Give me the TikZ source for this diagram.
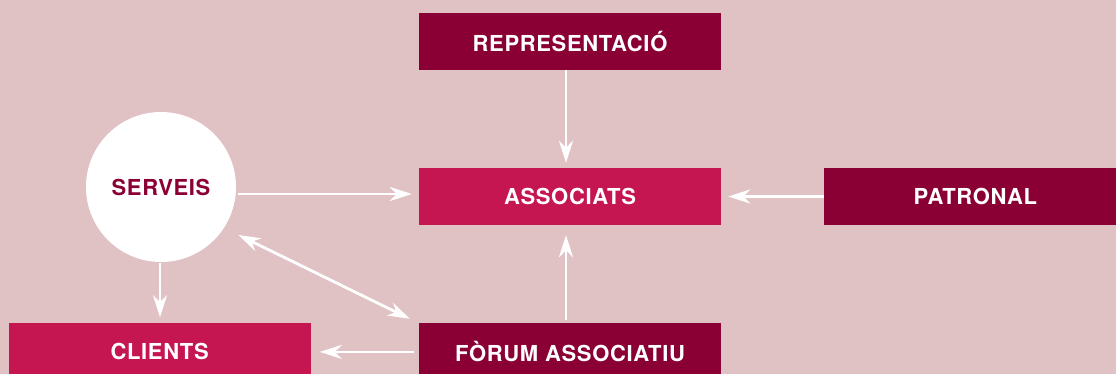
\documentclass[tikz,border=0pt]{standalone}
\usepackage{fontspec}
\setmainfont{TeX Gyre Heros}[LetterSpace=3]
\usepackage{tikz}
\usetikzlibrary{positioning, arrows.meta}

\definecolor{bgpink}{RGB}{225,194,196}
\definecolor{darkwine}{RGB}{138,0,52}
\definecolor{brightwine}{RGB}{197,22,82}

\tikzset{
  darkbox/.style={rectangle, fill=darkwine, text=white, minimum width=302pt, minimum height=57pt, inner sep=0pt, font=\fontsize{22}{24}\selectfont\bfseries},
  brightbox/.style={darkbox, fill=brightwine},
  circbox/.style={circle, fill=white, text=darkwine, minimum size=150pt, inner sep=0pt, font=\fontsize{22}{24}\selectfont\bfseries},
  arr/.style={->, draw=white, line width=2.8pt},
}

\begin{document}
\begin{tikzpicture}[x=1pt, y=-1pt, >={Stealth[length=22pt, width=14pt, inset=7pt]}]

\useasboundingbox (0,0) rectangle (1116,374);
\clip (0,0) rectangle (1116,374);
\fill[bgpink] (0,0) rectangle (1116,374);

\node (assoc) [brightbox] at (570,196.5) {ASSOCIATS};
\node (repr) [darkbox, above=98pt of assoc] {REPRESENTACIÓ};
\node (forum) [darkbox, below=98pt of assoc] {FÒRUM ASSOCIATIU};
\node (patronal) [darkbox, right=103pt of assoc] {PATRONAL};
\node (clients) [brightbox, left=108pt of forum] {CLIENTS};
\node (serveis) [circbox] at (161,187) {SERVEIS};

\draw[arr, shorten >=5pt] ([xshift=-4pt]repr.south) -- ([xshift=-4pt]assoc.north);
\draw[arr, shorten <=2pt, shorten >=7pt] ([yshift=-7pt]serveis.east) -- ([yshift=-7pt]serveis.east -| assoc.west);
\draw[arr, shorten >=7pt] (patronal.west) -- (assoc.east);
\draw[arr, shorten <=3pt, shorten >=10pt] ([xshift=-4pt]forum.north) -- ([xshift=-4pt]assoc.south);
\draw[arr, shorten <=1pt, shorten >=6pt] ([xshift=-1pt]serveis.south) -- ([xshift=-1pt]serveis.south |- clients.north);
\draw[arr, shorten <=5pt, shorten >=9pt] (forum.west) -- (clients.east);
\draw[arr, <->, shorten <=16pt, shorten >=10pt] (serveis.-33) -- (forum.north west);

\end{tikzpicture}
\end{document}
